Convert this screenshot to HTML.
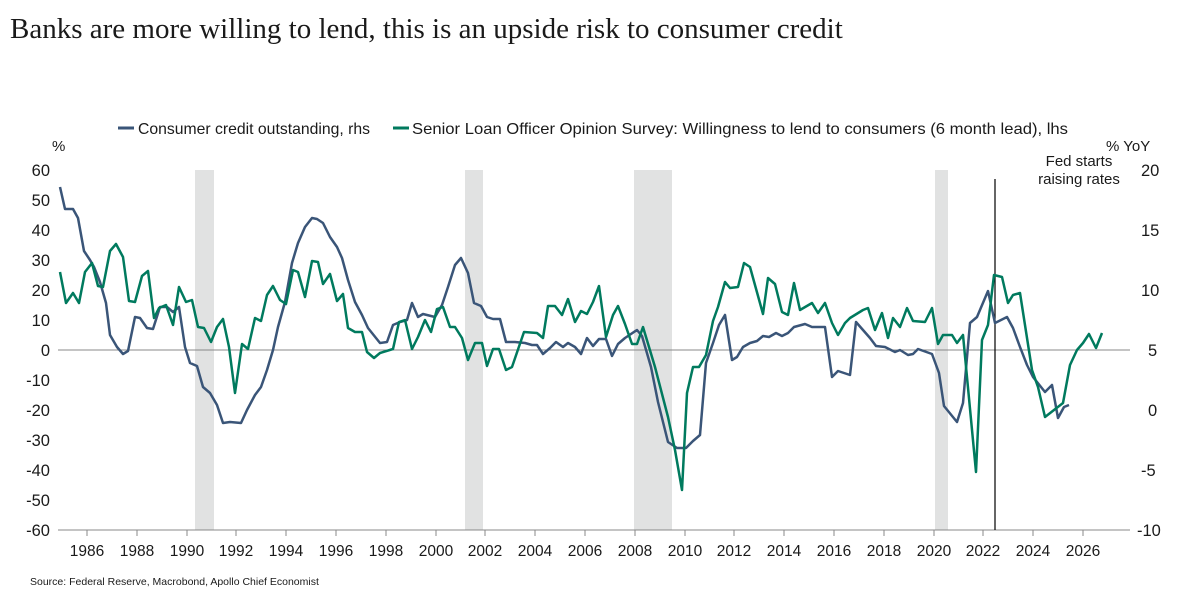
<!DOCTYPE html>
<html><head><meta charset="utf-8"><style>
body{margin:0;background:#fff;width:1185px;height:597px;overflow:hidden}
svg text{font-family:"Liberation Sans",sans-serif;fill:#1a1a1a}
</style></head><body>
<svg width="1185" height="597" xmlns="http://www.w3.org/2000/svg">
<text x="10" y="38" style="font-family:'Liberation Serif',serif;font-size:29px">Banks are more willing to lend, this is an upside risk to consumer credit</text>
<g font-size="16">
<line x1="118" y1="128" x2="134" y2="128" stroke="#3a5578" stroke-width="3"/>
<text x="138" y="134" textLength="232" lengthAdjust="spacingAndGlyphs">Consumer credit outstanding, rhs</text>
<line x1="393" y1="128" x2="409" y2="128" stroke="#007a5e" stroke-width="3"/>
<text x="412" y="134" textLength="656" lengthAdjust="spacingAndGlyphs">Senior Loan Officer Opinion Survey: Willingness to lend to consumers (6 month lead), lhs</text>
</g>
<rect x="195" y="170" width="19" height="360" fill="#e1e2e2"/>
<rect x="465" y="170" width="18" height="360" fill="#e1e2e2"/>
<rect x="634" y="170" width="38" height="360" fill="#e1e2e2"/>
<rect x="935" y="170" width="13" height="360" fill="#e1e2e2"/>
<line x1="58" y1="350" x2="1130" y2="350" stroke="#888" stroke-width="1"/>
<line x1="58" y1="530" x2="1130" y2="530" stroke="#888" stroke-width="1"/>
<g stroke="#888">
<line x1="87" y1="530" x2="87" y2="536"/><line x1="137" y1="530" x2="137" y2="536"/><line x1="187" y1="530" x2="187" y2="536"/><line x1="236" y1="530" x2="236" y2="536"/><line x1="286" y1="530" x2="286" y2="536"/><line x1="336" y1="530" x2="336" y2="536"/><line x1="386" y1="530" x2="386" y2="536"/><line x1="436" y1="530" x2="436" y2="536"/><line x1="485" y1="530" x2="485" y2="536"/><line x1="535" y1="530" x2="535" y2="536"/><line x1="585" y1="530" x2="585" y2="536"/><line x1="635" y1="530" x2="635" y2="536"/><line x1="685" y1="530" x2="685" y2="536"/><line x1="734" y1="530" x2="734" y2="536"/><line x1="784" y1="530" x2="784" y2="536"/><line x1="834" y1="530" x2="834" y2="536"/><line x1="884" y1="530" x2="884" y2="536"/><line x1="934" y1="530" x2="934" y2="536"/><line x1="983" y1="530" x2="983" y2="536"/><line x1="1033" y1="530" x2="1033" y2="536"/><line x1="1083" y1="530" x2="1083" y2="536"/>
</g>
<g font-size="15.5" text-anchor="middle">
<text x="87" y="556">1986</text><text x="137" y="556">1988</text><text x="187" y="556">1990</text><text x="236" y="556">1992</text><text x="286" y="556">1994</text><text x="336" y="556">1996</text><text x="386" y="556">1998</text><text x="436" y="556">2000</text><text x="485" y="556">2002</text><text x="535" y="556">2004</text><text x="585" y="556">2006</text><text x="635" y="556">2008</text><text x="685" y="556">2010</text><text x="734" y="556">2012</text><text x="784" y="556">2014</text><text x="834" y="556">2016</text><text x="884" y="556">2018</text><text x="934" y="556">2020</text><text x="983" y="556">2022</text><text x="1033" y="556">2024</text><text x="1083" y="556">2026</text>
</g>
<g font-size="16.5" text-anchor="end">
<text x="50" y="176">60</text><text x="50" y="206">50</text><text x="50" y="236">40</text><text x="50" y="266">30</text><text x="50" y="296">20</text><text x="50" y="326">10</text><text x="50" y="356">0</text><text x="50" y="386">-10</text><text x="50" y="416">-20</text><text x="50" y="446">-30</text><text x="50" y="476">-40</text><text x="50" y="506">-50</text><text x="50" y="536">-60</text>
</g>
<g font-size="16.5">
<text x="1141" y="176">20</text><text x="1141" y="236">15</text><text x="1141" y="296">10</text><text x="1148" y="356">5</text><text x="1148" y="416">0</text><text x="1141" y="476">-5</text><text x="1137" y="536">-10</text>
<text x="52" y="151" font-size="15">%</text>
<text x="1106" y="151" font-size="15">% YoY</text>
<text x="1079" y="166" font-size="15" text-anchor="middle">Fed starts</text>
<text x="1079" y="184" font-size="15" text-anchor="middle">raising rates</text>
</g>
<line x1="995" y1="179" x2="995" y2="530" stroke="#000" stroke-width="1.2"/>
<polyline fill="none" stroke="#3a5578" stroke-width="2.5" stroke-linejoin="round" points="60,187 65,209 68,209 73,209 78,218 84,251 90,260 94,267 100,282 106,303 110,335 117,347 123,354 128,351 135,317 140,318 147,328 153,329 160,307 167,307 173,312 179,307 185,347 190,363 197,366 203,387 210,393 217,405 223,423 230,422 241,423 247,410 255,395 261,387 267,370 273,350 278,327 285,302 292,263 298,243 305,227 312,218 317,219 323,223 330,237 337,247 342,258 348,280 355,302 362,315 368,328 380,343 387,342 393,325 400,322 407,320 412,303 418,317 423,314 435,317 442,305 448,287 455,265 461,258 468,273 474,303 481,306 487,317 493,319 500,319 506,342 515,342 525,343 532,345 537,345 543,354 550,348 556,342 563,347 568,343 575,347 581,354 587,338 593,346 599,339 606,339 612,356 618,344 625,338 637,330 642,336 651,367 658,402 668,442 677,448 686,448 693,441 700,435 706,363 713,343 719,325 725,315 732,360 737,357 743,347 750,343 757,341 763,336 769,337 776,333 782,336 788,333 794,327 805,324 812,327 825,327 832,377 838,371 850,375 856,322 870,338 876,346 885,347 895,352 900,350 908,355 913,354 918,349 932,354 939,373 944,406 957,422 963,403 970,323 977,317 988,291 995,323 1007,317 1013,328 1020,347 1027,365 1033,377 1045,392 1052,385 1058,418 1064,407 1069,405"/>
<polyline fill="none" stroke="#007a5e" stroke-width="2.5" stroke-linejoin="round" points="60,272 66,303 73,293 79,303 85,272 92,263 98,286 103,287 110,251 116,244 123,257 129,301 135,302 142,276 148,271 154,318 159,308 166,305 173,325 179,287 186,302 192,300 198,327 204,328 211,342 217,327 223,319 229,347 235,393 242,344 248,349 255,318 261,321 267,295 273,286 280,300 286,304 293,270 298,272 305,297 312,261 318,262 323,284 330,274 337,301 343,294 348,328 355,332 362,332 367,352 374,358 380,353 393,349 399,322 405,320 412,349 418,337 425,320 431,332 437,309 443,307 450,327 455,327 462,338 468,360 475,343 482,343 487,366 493,349 499,349 506,370 512,367 524,332 537,333 543,338 548,306 555,306 562,315 568,299 575,322 581,311 587,314 593,302 599,286 606,337 613,315 618,306 625,324 632,344 637,344 643,327 655,367 668,417 675,450 682,490 687,393 693,367 699,367 706,355 713,321 718,307 725,282 730,288 738,287 744,263 750,267 763,314 768,278 775,284 782,312 788,315 794,283 800,310 812,303 818,313 825,303 832,323 838,335 845,323 850,318 863,310 868,308 875,330 882,313 888,338 893,318 900,327 907,308 913,321 925,322 932,308 938,344 943,335 952,335 957,343 963,335 976,472 982,340 988,325 994,275 1002,277 1008,303 1013,295 1020,293 1032,370 1038,387 1045,417 1063,403 1070,365 1077,350 1083,343 1089,334 1096,348 1102,333"/>
<text x="30" y="585" font-size="10.5">Source: Federal Reserve, Macrobond, Apollo Chief Economist</text>
</svg>
</body></html>
